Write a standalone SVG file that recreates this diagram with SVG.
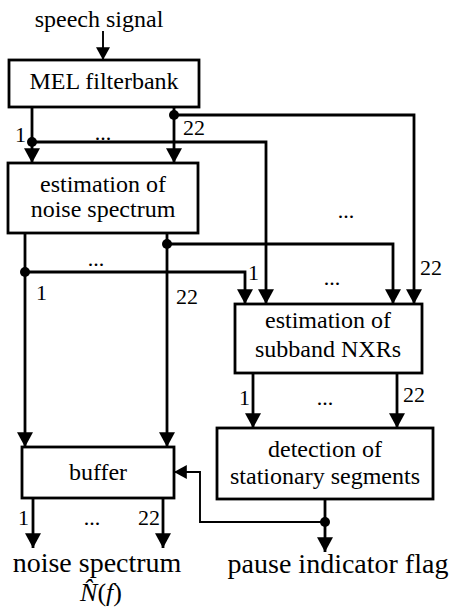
<svg xmlns="http://www.w3.org/2000/svg" width="452" height="613" viewBox="0 0 452 613" font-family="'Liberation Serif','Times New Roman',serif">
<style>
text{font-family:"Liberation Serif","Times New Roman",serif;fill:#000}
.bt{font-size:24px;text-anchor:middle}
.num{font-size:22px}
.lbl{font-size:28px;text-anchor:middle}
.box{fill:#fff;stroke:#000;stroke-width:2.8}
.w{fill:none;stroke:#000;stroke-width:2.8}
.t{fill:none;stroke:#000;stroke-width:1.9}
.dot{fill:#000}
</style>
<defs>
<marker id="ah" markerUnits="userSpaceOnUse" markerWidth="16" markerHeight="16" viewBox="0 0 14 14" refX="13" refY="7" orient="auto">
<path d="M0,0 L13,7 L0,14 Z" fill="#000"/>
</marker>
<marker id="ahs" markerUnits="userSpaceOnUse" markerWidth="14" markerHeight="14" viewBox="0 0 12 12" refX="11" refY="6" orient="auto">
<path d="M0,0 L11,6 L0,12 Z" fill="#000"/>
</marker>
</defs>
<text x="99" y="27" class="bt">speech signal</text>
<g id="connectors">
<path class="t" d="M103,31 V60" marker-end="url(#ahs)"/>
<path class="w" d="M32,107 V163" marker-end="url(#ah)"/>
<path class="w" d="M174,107 V163" marker-end="url(#ah)"/>
<path class="w" d="M32,142 H266 V304" marker-end="url(#ah)"/>
<path class="w" d="M174,115 H414 V304" marker-end="url(#ah)"/>
<path class="w" d="M25,233 V447" marker-end="url(#ah)"/>
<path class="w" d="M167,233 V447" marker-end="url(#ah)"/>
<path class="w" d="M25,272 H245 V304" marker-end="url(#ah)"/>
<path class="w" d="M167,244 H393 V304" marker-end="url(#ah)"/>
<path class="w" d="M253,373 V428" marker-end="url(#ah)"/>
<path class="w" d="M397,373 V428" marker-end="url(#ah)"/>
<path class="w" d="M325,499 V552" marker-end="url(#ah)"/>
<path class="t" d="M325,522 H200 V472 H174" marker-end="url(#ahs)"/>
<path class="w" d="M33,498 V548" marker-end="url(#ah)"/>
<path class="w" d="M163,498 V548" marker-end="url(#ah)"/>
<circle class="dot" cx="32" cy="142" r="5"/>
<circle class="dot" cx="174" cy="115" r="5"/>
<circle class="dot" cx="25" cy="272" r="5"/>
<circle class="dot" cx="167" cy="244" r="5"/>
<circle class="dot" cx="325" cy="522" r="5"/>
<text x="26" y="142" class="num" text-anchor="end">1</text>
<text x="103" y="140" class="num" text-anchor="middle">...</text>
<text x="183" y="135" class="num">22</text>
<text x="96" y="266" class="num" text-anchor="middle">...</text>
<text x="36" y="300" class="num">1</text>
<text x="176" y="304" class="num">22</text>
<text x="346" y="218" class="num" text-anchor="middle">...</text>
<text x="332" y="285" class="num" text-anchor="middle">...</text>
<text x="259" y="280" class="num" text-anchor="end">1</text>
<text x="420" y="275" class="num">22</text>
<text x="250" y="405" class="num" text-anchor="end">1</text>
<text x="325" y="405" class="num" text-anchor="middle">...</text>
<text x="403" y="402" class="num">22</text>
<text x="29" y="525" class="num" text-anchor="end">1</text>
<text x="92" y="525" class="num" text-anchor="middle">...</text>
<text x="160" y="525" class="num" text-anchor="end">22</text>
</g>
<g id="mel">
<rect class="box" x="9" y="60" width="190" height="47"/>
<text x="104" y="89" class="bt">MEL filterbank</text>
</g>
<g id="noise-est">
<rect class="box" x="8" y="163" width="190" height="70"/>
<text x="103" y="192" class="bt">estimation of</text>
<text x="103" y="217" class="bt">noise spectrum</text>
</g>
<g id="nxr">
<rect class="box" x="235" y="304" width="187" height="69"/>
<text x="328" y="328" class="bt">estimation of</text>
<text x="328" y="357" class="bt">subband NXRs</text>
</g>
<g id="detection">
<rect class="box" x="217" y="428" width="216" height="71"/>
<text x="325" y="457" class="bt">detection of</text>
<text x="325" y="484" class="bt">stationary segments</text>
</g>
<g id="buffer">
<rect class="box" x="22" y="447" width="152" height="51"/>
<text x="98" y="480" class="bt">buffer</text>
</g>
<text x="97" y="572" class="lbl">noise spectrum</text>
<text x="101" y="601" font-size="26" text-anchor="middle"><tspan font-style="italic">N̂</tspan>(<tspan font-style="italic">f</tspan>)</text>
<text x="338" y="573" class="lbl">pause indicator flag</text>
</svg>
